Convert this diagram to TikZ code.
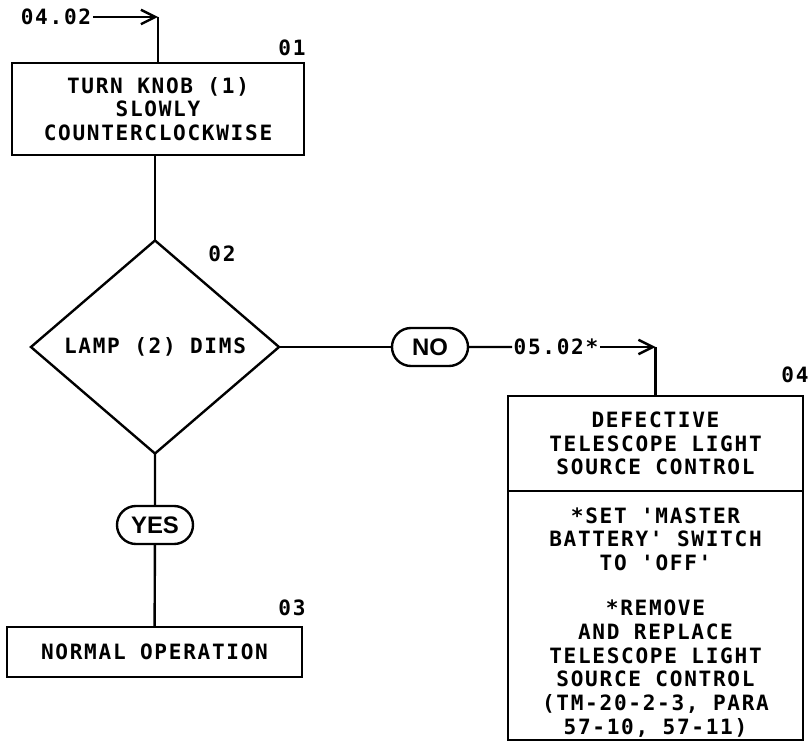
\documentclass[tikz,border=0pt]{standalone}
\usepackage{fontspec}
\newfontfamily\plotfont[LetterSpace=8.0]{DejaVu Sans Mono}
\newfontfamily\answerfont{Liberation Sans}
\usetikzlibrary{arrows.meta,shapes.geometric,shapes.misc}

\begin{document}
\begin{tikzpicture}[
        x=0.025cm,
        y=-0.025cm,
        every node/.style={
            font=\plotfont\bfseries\fontsize{15}{16.9}\selectfont
        },
        box/.style={
            rectangle,
            draw,
            line width=1.7pt,
            align=center,
            inner sep=2pt,
            outer sep=0pt
        },
        decision/.style={
            diamond,
            draw,
            line width=1.7pt,
            align=center,
            inner sep=0pt,
            outer sep=0pt,
            minimum width=6.2cm,
            minimum height=5.325cm
        },
        answer/.style={
            rounded rectangle,
            draw,
            line width=1.7pt,
            minimum width=1.9cm,
            minimum height=0.95cm,
            inner sep=0pt,
            outer sep=0pt,
            font=\answerfont\bfseries\fontsize{17}{20}\selectfont
        },
        tag/.style={
            inner sep=1pt
        },
        flow/.style={
            line width=1.7pt
        },
        arrow/.style={
            line width=1.7pt,
            -{Straight Barb[length=3.6mm,width=3.6mm,line width=1.7pt]}
        }
    ]

        \useasboundingbox (0,0) rectangle (809,755);

        \node[tag] (ref0402) at (56,17) {04.02};
        \coordinate (c0402) at (158,17);
        \node[box, minimum width=7.3cm, minimum height=2.3cm] (box01) at (158,109) {TURN KNOB (1)\\SLOWLY\\COUNTERCLOCKWISE};
        \node[tag] (tag01) at (292,48) {01};

        \node[decision] (dec02) at (155,347) {LAMP (2) DIMS};
        \node[tag] (tag02) at (222,254) {02};

        \node[answer] (no) at (430,347) {NO};
        \node[tag] (ref0502) at (556,347) {05.02*};
        \coordinate (c0502) at (655.5,347);

        \node[box, minimum width=7.375cm, minimum height=2.375cm] (box04a) at (655.5,443.5) {DEFECTIVE\\TELESCOPE LIGHT\\SOURCE CONTROL};
        \node[box, minimum width=7.375cm, minimum height=6.225cm] (box04b) at (655.5,615.5) {\rule{0pt}{21pt}*SET 'MASTER\\BATTERY' SWITCH\\TO 'OFF'\\[15pt]*REMOVE\\AND REPLACE\\TELESCOPE LIGHT\\SOURCE CONTROL\\(TM-20-2-3, PARA\\57-10, 57-11)};
        \node[tag] (tag04) at (795,375) {04};

        \node[answer] (yes) at (155,525) {YES};
        \node[box, minimum width=7.375cm, minimum height=1.25cm] (box03) at (154.5,652) {NORMAL OPERATION};
        \node[tag] (tag03) at (292,608) {03};

        \draw[arrow] (ref0402) -- (c0402);
        \draw[flow] (c0402) -- (box01);
        \draw[flow] (box01.south -| dec02.north) -- (dec02.north);
        \draw[flow] (dec02) -- (no);
        \draw[flow] (no) -- (ref0502);
        \draw[arrow] (ref0502) -- (c0502);
        \draw[flow] (c0502) -- (box04a);
        \draw[flow] (dec02) -- (yes);
        \draw[flow] (yes) -- (box03);

    \end{tikzpicture}
\end{document}
